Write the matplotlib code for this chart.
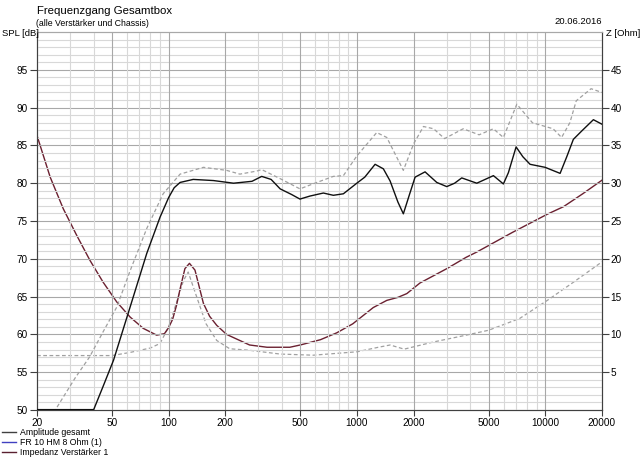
import numpy as np
import matplotlib
matplotlib.use("Agg")
import matplotlib.pyplot as plt
from matplotlib.lines import Line2D
from matplotlib.ticker import FixedLocator, NullFormatter

plt.rcParams['font.family'] = ['Liberation Sans', 'DejaVu Sans']

# Amplitude gesamt (SPL, left axis)
f_gesamt = [20, 30, 40, 45, 51, 62.4, 76.5, 90, 100, 107, 115, 135, 173, 221, 277, 312,
            350, 391, 450, 498, 563, 663, 749, 847, 998, 1100, 1248, 1381, 1499, 1650,
            1763, 1900, 2035, 2299, 2653, 2997, 3300, 3600, 4327, 5302, 5990, 6369, 6997,
            7600, 8300, 9976, 11983, 13000, 14090, 15600, 18000, 20000]
spl_gesamt = [50.05, 50.05, 50.05, 53.2, 56.6, 63.6, 70.7, 75.5, 78.1, 79.4, 80.1, 80.5,
              80.35, 80.0, 80.25, 80.9, 80.5, 79.25, 78.5, 77.9, 78.3, 78.7, 78.4, 78.6,
              80.0, 80.8, 82.5, 81.9, 80.3, 77.5, 75.95, 78.5, 80.8, 81.5, 80.1, 79.55,
              80.0, 80.7, 80.0, 81.0, 79.9, 81.4, 84.8, 83.5, 82.5, 82.1, 81.3, 83.5, 85.8,
              86.9, 88.4, 87.8]

# Chassis SPL (dashed gray, left axis)
f_chassis = [20, 25, 32, 38, 45, 53, 62.4, 76.5, 93.5, 115, 153, 203, 239, 293, 312, 391,
             498, 612, 749, 847, 998, 1273, 1440, 1763, 1998, 2255, 2552, 2918, 3665,
             4450, 5300, 5990, 7060, 8540, 11000, 12200, 13500, 14600, 17500, 20000]
spl_chassis = [46.2, 50.0, 54.3, 57.0, 60.4, 63.6, 68.4, 74.0, 78.6, 81.2, 82.1, 81.7,
               81.2, 81.6, 81.8, 80.6, 79.25, 80.1, 80.9, 81.0, 83.6, 86.7, 86.05, 81.7,
               85.2, 87.5, 87.2, 85.9, 87.2, 86.4, 87.2, 86.05, 90.45, 88.0, 87.2, 86.05,
               88.0, 90.9, 92.5, 92.0]

# Impedanz Verstaerker 1 (right axis)
f_imp = [20, 23.5, 27.6, 32.5, 38.2, 44.9, 53, 62.4, 73.3, 86.4, 95, 100, 105, 110, 115,
         122, 129, 138, 153, 165, 180, 203, 269, 333, 440, 500, 640, 780, 950, 1220, 1440,
         1650, 1840, 2160, 3000, 3800, 4330, 6700, 10250, 12500, 15800, 20000]
z_imp = [36.3, 30.8, 26.6, 23.1, 19.8, 16.9, 14.3, 12.3, 10.8, 9.9, 10.1, 10.9, 12.0,
         13.8, 16.0, 18.7, 19.4, 18.5, 14.1, 12.4, 11.2, 10.0, 8.6, 8.3, 8.3, 8.6, 9.3,
         10.2, 11.4, 13.55, 14.5, 14.9, 15.4, 16.8, 18.7, 20.2, 20.9, 23.5, 25.9, 26.9,
         28.6, 30.4]

# Chassis impedance (dashed gray, right axis)
f_zch = [20, 50, 62, 80, 90, 100, 110, 120, 127, 143, 158, 180, 211, 269, 391, 586, 1000,
         1300, 1500, 1780, 2550, 3800, 5000, 7300, 10250, 14100, 20000]
z_zch = [7.2, 7.2, 7.6, 8.2, 8.8, 11.0, 14.2, 17.15, 18.25, 14.5, 11.4, 9.2, 8.1, 7.9,
         7.4, 7.25, 7.7, 8.3, 8.6, 8.05, 9.0, 9.9, 10.55, 12.1, 14.5, 16.9, 19.6]

x_ticks = [20, 50, 100, 200, 500, 1000, 2000, 5000, 10000, 20000]
x_minor = [30, 40, 60, 70, 80, 90, 300, 400, 600, 700, 800, 900,
           3000, 4000, 6000, 7000, 8000, 9000]
spl_ticks = [50, 55, 60, 65, 70, 75, 80, 85, 90, 95]
z_ticks = [5, 10, 15, 20, 25, 30, 35, 40, 45]

W, H = 640, 459
fig = plt.figure(figsize=(W / 100, H / 100), dpi=100)
ax = fig.add_axes([37 / W, 1 - 410 / H, 565 / W, 378 / H])
ax2 = ax.twinx()

ax.set_xscale('log')
ax.set_xlim(20, 20000)
ax.set_ylim(50, 100)
ax2.set_ylim(0, 50)

# grid
for v in range(51, 100):
    ax.axhline(v, color='#d8d8d8' if v % 5 else '#a8a8a8', lw=0.8, zorder=0)
for v in x_minor:
    ax.axvline(v, color='#d8d8d8', lw=0.8, zorder=0)
for v in x_ticks[1:-1]:
    ax.axvline(v, color='#a8a8a8', lw=0.8, zorder=0)

dash = (0, (3, 2))
ax.plot(f_chassis, spl_chassis, color='#a0a0a0', lw=0.9, ls=dash, zorder=2)
ax2.plot(f_zch, z_zch, color='#a0a0a0', lw=0.9, ls=dash, zorder=2)
ax2.plot(f_imp, z_imp, color='#6a2030', lw=1.0, zorder=3)
ax.plot(f_gesamt, spl_gesamt, color='#101010', lw=1.0, zorder=3)
ax.set_zorder(ax2.get_zorder() + 1)
ax.patch.set_visible(False)

ax.xaxis.set_major_locator(FixedLocator(x_ticks))
ax.xaxis.set_minor_locator(FixedLocator([]))
ax.set_xticklabels([str(t) for t in x_ticks])
ax.xaxis.set_minor_formatter(NullFormatter())
ax.set_yticks(spl_ticks)
ax2.set_yticks(z_ticks)
ax.tick_params(axis='both', labelsize=7.2, length=5, width=0.8, color='#404040', pad=1.5)
ax2.tick_params(axis='y', labelsize=7.2, length=5, width=0.8, color='#404040', pad=1)
ax.tick_params(axis='x', length=4)

for a in (ax, ax2):
    for s in ('left', 'bottom', 'right'):
        a.spines[s].set_color('#404040')
        a.spines[s].set_linewidth(0.8)
    a.spines['top'].set_color('#a8a8a8')
    a.spines['top'].set_linewidth(0.8)

fig.text(37 / W, 1 - 11 / H, 'Frequenzgang Gesamtbox', fontsize=8.2, va='center', ha='left')
fig.text(36 / W, 1 - 23 / H, '(alle Verstärker und Chassis)', fontsize=6.3, va='center', ha='left')
fig.text(602 / W, 1 - 22 / H, '20.06.2016', fontsize=6.8, va='center', ha='right')
fig.text(2 / W, 1 - 33 / H, 'SPL [dB]', fontsize=6.8, va='center', ha='left')
fig.text(606 / W, 1 - 34 / H, 'Z [Ohm]', fontsize=6.8, va='center', ha='left')

handles = [Line2D([], [], color='#404040', lw=1.0),
           Line2D([], [], color='#4040c0', lw=1.0),
           Line2D([], [], color='#5a2030', lw=1.0)]
labels = ['Amplitude gesamt', 'FR 10 HM 8 Ohm (1)', 'Impedanz Verstärker 1']
fig.legend(handles, labels, loc='upper left', bbox_to_anchor=(2 / W, 1 - 428 / H),
           frameon=False, fontsize=6.3, handlelength=1.6, handletextpad=0.4,
           labelspacing=0.12, borderpad=0, borderaxespad=0)

fig.savefig('out.png', dpi=100)
